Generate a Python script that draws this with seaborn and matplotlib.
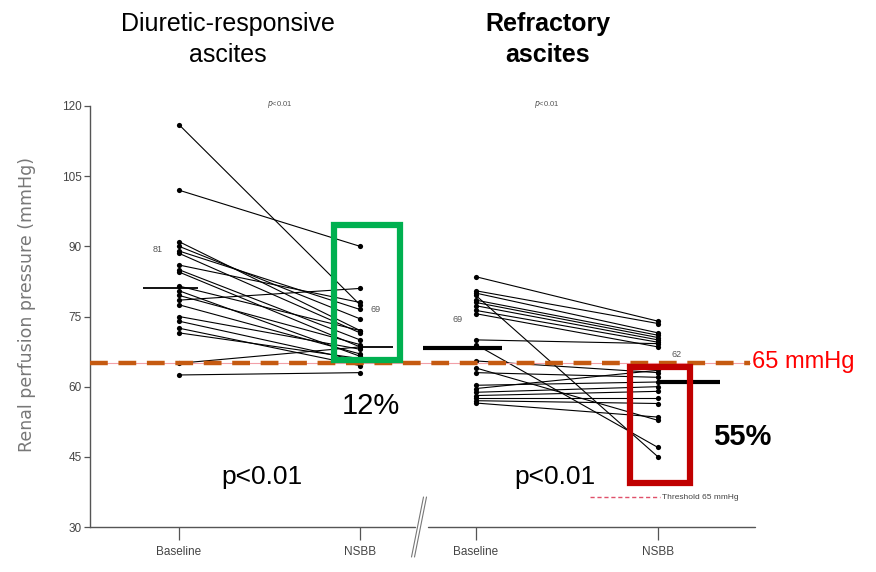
import matplotlib
matplotlib.use("Agg")
import matplotlib.pyplot as plt
import seaborn as sns
import pandas as pd
from matplotlib.patches import Rectangle

# ---------------- data ----------------
groups = ["Diuretic-responsive", "Refractory"]
timepoints = ["Baseline", "NSBB"]

dr_baseline = [116, 102, 91, 90, 89, 88.5, 86, 85, 84.5, 81.5, 80.5, 79.5, 78.5,
               77.5, 75, 74, 72.5, 71.5, 65, 62.5]
dr_nsbb = [77.5, 90, 72, 74.5, 76.5, 71.5, 78, 70, 68.5, 72, 66.5, 69, 81,
           67, 68, 65.5, 64.5, 66, 68.5, 63]

ra_baseline = [83.5, 80.5, 80, 79.5, 78.5, 78, 77.3, 76.3, 75.6, 70, 69, 65.5,
               64, 63, 60.3, 59.6, 58.8, 58.1, 57.5, 57, 56.5]
ra_nsbb = [74, 73.5, 71.5, 45, 71, 70.5, 70, 69.5, 68.5, 69.2, 47, 63,
           52.8, 62, 61, 63.5, 60, 59, 57.5, 56.4, 53.5]

mean_values = [81, 68.4, 68.2, 61]          # drawn mean bars
mean_labels = ["81", "69", "69", "62"]
threshold = 65
pct_labels = ["12%", "55%"]
p_labels = ["p<0.01", "p<0.01"]
yticks = [30, 45, 60, 75, 90, 105, 120]

# ---------------- layout ----------------
xpos = {("Diuretic-responsive", "Baseline"): 0.0,
        ("Diuretic-responsive", "NSBB"): 1.0,
        ("Refractory", "Baseline"): 1.64,
        ("Refractory", "NSBB"): 2.646}

rows = []
for grp, b, n in [(groups[0], dr_baseline, dr_nsbb), (groups[1], ra_baseline, ra_nsbb)]:
    for i, (vb, vn) in enumerate(zip(b, n)):
        rows.append(dict(pid=f"{grp}-{i}", group=grp, time=timepoints[0], value=vb))
        rows.append(dict(pid=f"{grp}-{i}", group=grp, time=timepoints[1], value=vn))
df = pd.DataFrame(rows)
df["x"] = [xpos[(g, t)] for g, t in zip(df["group"], df["time"])]

sns.set_theme(style="white")
plt.rcParams["font.family"] = ["Liberation Sans", "DejaVu Sans"]
plt.rcParams["text.color"] = "black"

W, H = 876, 572
fig = plt.figure(figsize=(W / 100, H / 100), dpi=100)
fx = lambda px: px / W
fy = lambda py: 1 - py / H
ax = fig.add_axes([fx(90), fy(527), fx(755) - fx(90), fy(106) - fy(527)])

# patient lines and points
sns.lineplot(data=df, x="x", y="value", units="pid", estimator=None, sort=False,
             color="black", linewidth=0.8, ax=ax, legend=False)
sns.scatterplot(data=df, x="x", y="value", color="black", s=14, linewidth=0,
                ax=ax, legend=False, zorder=3)

ax.set_xlim(-0.492, 3.182)
ax.set_ylim(30, 120)
ax.set_xlabel("")
ax.set_ylabel("")

# mean bars
mean_spans = [(-0.2, 0.105), (1.0, 1.18), (1.348, 1.785), (2.64, 2.99)]
mean_lw = [1.3, 1.3, 3.0, 3.0]
for (x0, x1), m, lw in zip(mean_spans, mean_values, mean_lw):
    ax.plot([x0, x1], [m, m], color="black", lw=lw, solid_capstyle="butt", zorder=4)
label_pos = [(-0.116, 89.4), (1.083, 76.4), (1.536, 74.4), (2.75, 66.8)]
for (lx, ly), t in zip(label_pos, mean_labels):
    ax.text(lx, ly, t, fontsize=6.5, color="#555555", ha="center", va="center",
            family=["Liberation Sans Narrow", "Liberation Sans"])

# threshold lines
ax.axhline(threshold, xmin=0, xmax=0.9925, color="#F2A0A8", lw=0.8, zorder=4)
ax.axhline(threshold, xmin=0, xmax=0.9925, color="#C55A11", lw=3.2,
           dashes=(4, 2.4), zorder=6)
fig.text(fx(752), fy(362), f"{threshold} mmHg", color="#FF0000", fontsize=17,
         ha="left", va="center")

# highlight boxes
ax.add_patch(Rectangle((0.856, 65.7), 1.221 - 0.856, 94.5 - 65.7, fill=False,
                       edgecolor="#00B050", lw=4.5, zorder=7))
ax.add_patch(Rectangle((2.49, 39.4), 2.823 - 2.49, 64.2 - 39.4, fill=False,
                       edgecolor="#C00000", lw=4.5, zorder=7))

# threshold legend
ax.plot([2.27, 2.657], [36.4, 36.4], color="#E0506A", lw=1.0, dashes=(3, 2))
ax.text(2.67, 36.4, "Threshold 65 mmHg", fontsize=6, color="#444444",
        ha="left", va="center", family=["Liberation Sans Narrow", "Liberation Sans"])

# small p values in plot
ax.text(0.558, 120.3, r"$p$<0.01", fontsize=5.5, color="#555555", ha="center", va="center")
ax.text(2.03, 120.3, r"$p$<0.01", fontsize=5.5, color="#555555", ha="center", va="center")

# axes styling
for s in ["top", "right", "bottom"]:
    ax.spines[s].set_visible(False)
ax.spines["left"].set_color("#555555")
ax.spines["left"].set_linewidth(1.0)
ax.set_yticks(yticks)
ax.set_yticklabels([str(v) for v in yticks], fontsize=8.5, color="#444444",
                   family=["Liberation Sans Narrow", "Liberation Sans"])
ax.set_xticks([xpos[(g, t)] for g in groups for t in timepoints])
ax.set_xticklabels([t for g in groups for t in timepoints], fontsize=8.5, color="#444444",
                   family=["Liberation Sans Narrow", "Liberation Sans"])
ax.tick_params(axis="y", direction="out", length=4, width=0.9, color="#555555", left=True, pad=2)
ax.tick_params(axis="x", direction="out", length=9, width=0.9, color="#555555", bottom=True, pad=5)

# broken bottom axis
ax.plot([0, (415 - 90) / 665], [0, 0], transform=ax.transAxes, color="#555555",
        lw=1.0, clip_on=False)
ax.plot([(428 - 90) / 665, 1], [0, 0], transform=ax.transAxes, color="#555555",
        lw=1.0, clip_on=False)
for dx in (-1.5, 1.5):
    fig.add_artist(plt.Line2D([fx(413 + dx), fx(425 + dx)], [fy(557), fy(497)],
                              color="#777777", lw=0.8))

# y label
fig.text(fx(27), fy(305), "Renal perfusion pressure (mmHg)", rotation=90,
         fontsize=12.5, color="#777777", ha="center", va="center", family="DejaVu Sans")

# headings
fig.text(fx(228), fy(24), "Diuretic-responsive", fontsize=18, ha="center", va="center")
fig.text(fx(228), fy(55), "ascites", fontsize=18, ha="center", va="center")
fig.text(fx(548), fy(24), "Refractory", fontsize=18, fontweight="bold", ha="center", va="center")
fig.text(fx(548), fy(55), "ascites", fontsize=18, fontweight="bold", ha="center", va="center")

# percentages and p values
fig.text(fx(371), fy(406), pct_labels[0], fontsize=21, ha="center", va="center")
fig.text(fx(742), fy(437), pct_labels[1], fontsize=21, fontweight="bold", ha="center", va="center")
fig.text(fx(262), fy(477), p_labels[0], fontsize=19, ha="center", va="center")
fig.text(fx(555), fy(477), p_labels[1], fontsize=19, ha="center", va="center")

fig.savefig("out.png", dpi=100)
